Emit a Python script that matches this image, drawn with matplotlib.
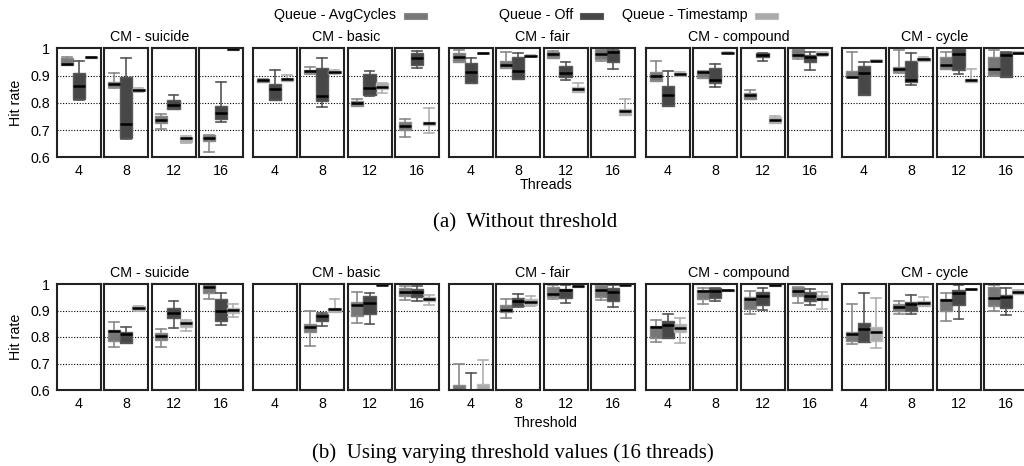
"""
Hit-rate box plots per contention manager, with and without threshold.
Two rows of 5 groups x 4 small panels, three queue variants per panel.
"""

import matplotlib
matplotlib.use('Agg')
import matplotlib.pyplot as plt
from matplotlib.patches import Rectangle

plt.rcParams['font.family'] = ['Liberation Sans', 'DejaVu Sans']

# ============================================================================
# Data
# ============================================================================

GROUPS = ['CM - suicide', 'CM - basic', 'CM - fair', 'CM - compound', 'CM - cycle']
SETTINGS = ['4', '8', '12', '16']
SERIES = ['Queue - AvgCycles', 'Queue - Off', 'Queue - Timestamp']

Y_TICKS = [0.6, 0.7, 0.8, 0.9, 1.0]
Y_TICK_LABELS = ['0.6', '0.7', '0.8', '0.9', '1']
GRID_LINES = [0.7, 0.8, 0.9]

# Each entry: (whislo, q1, median, q3, whishi); 4 settings per group, groups in order.
# None = no data for that setting.

# (a) Without threshold -- x = threads
TOP_AVGCYCLES = [
    (0.938, 0.940, 0.942, 0.965, 0.968), (0.853, 0.857, 0.870, 0.878, 0.911),
    (0.704, 0.727, 0.737, 0.752, 0.758), (0.621, 0.659, 0.671, 0.681, 0.683),
    (0.875, 0.876, 0.883, 0.887, 0.889), (0.906, 0.908, 0.917, 0.920, 0.930),
    (0.788, 0.788, 0.798, 0.808, 0.815), (0.673, 0.700, 0.715, 0.728, 0.742),
    (0.949, 0.949, 0.967, 0.982, 0.994), (0.927, 0.927, 0.939, 0.955, 0.988),
    (0.963, 0.966, 0.978, 0.985, 0.990), (0.955, 0.961, 0.979, 0.996, 0.996),
    (0.880, 0.880, 0.900, 0.914, 0.955), (0.891, 0.891, 0.912, 0.918, 0.918),
    (0.815, 0.815, 0.829, 0.837, 0.846), (0.961, 0.967, 0.976, 0.996, 0.996),
    (0.894, 0.894, 0.896, 0.918, 0.988), (0.908, 0.913, 0.925, 0.933, 0.994),
    (0.924, 0.924, 0.939, 0.968, 0.985), (0.898, 0.902, 0.924, 0.969, 0.994),
]
TOP_OFF = [
    (0.812, 0.813, 0.861, 0.911, 0.952), (0.668, 0.672, 0.722, 0.896, 0.965),
    (0.776, 0.776, 0.792, 0.810, 0.828), (0.728, 0.742, 0.761, 0.788, 0.876),
    (0.810, 0.810, 0.851, 0.869, 0.922), (0.785, 0.806, 0.826, 0.928, 0.965),
    (0.825, 0.830, 0.856, 0.907, 0.916), (0.927, 0.939, 0.966, 0.982, 0.989),
    (0.874, 0.874, 0.914, 0.947, 0.963), (0.889, 0.889, 0.918, 0.969, 0.982),
    (0.884, 0.894, 0.911, 0.935, 0.951), (0.924, 0.950, 0.988, 0.994, 0.998),
    (0.790, 0.790, 0.829, 0.862, 0.916), (0.859, 0.872, 0.884, 0.929, 0.941),
    (0.955, 0.969, 0.976, 0.982, 0.984), (0.920, 0.951, 0.967, 0.977, 0.985),
    (0.829, 0.829, 0.908, 0.935, 0.950), (0.864, 0.878, 0.885, 0.954, 0.982),
    (0.906, 0.920, 0.978, 0.996, 0.996), (0.894, 0.894, 0.977, 0.985, 0.988),
]
TOP_TIMESTAMP = [
    (0.965, 0.966, 0.967, 0.968, 0.969), (0.840, 0.842, 0.846, 0.852, 0.854),
    (0.654, 0.656, 0.671, 0.676, 0.678), (0.994, 0.995, 0.996, 0.997, 0.998),
    (0.880, 0.880, 0.886, 0.892, 0.901), (0.906, 0.908, 0.913, 0.917, 0.919),
    (0.835, 0.850, 0.858, 0.872, 0.874), (0.688, 0.719, 0.725, 0.728, 0.780),
    (0.980, 0.981, 0.982, 0.983, 0.984), (0.969, 0.970, 0.973, 0.975, 0.976),
    (0.839, 0.839, 0.851, 0.859, 0.872), (0.755, 0.755, 0.769, 0.776, 0.813),
    (0.900, 0.902, 0.906, 0.911, 0.913), (0.982, 0.983, 0.984, 0.985, 0.986),
    (0.725, 0.727, 0.737, 0.747, 0.750), (0.971, 0.974, 0.979, 0.985, 0.987),
    (0.953, 0.954, 0.955, 0.956, 0.957), (0.955, 0.955, 0.960, 0.965, 0.969),
    (0.878, 0.878, 0.884, 0.887, 0.924), (0.980, 0.982, 0.984, 0.987, 0.988),
]

# (b) Using varying threshold values (16 threads) -- x = threshold
BOTTOM_AVGCYCLES = [
    None, (0.763, 0.786, 0.822, 0.826, 0.855),
    (0.763, 0.788, 0.804, 0.816, 0.831), (0.944, 0.967, 0.989, 1.000, 1.000),
    None, (0.767, 0.819, 0.838, 0.848, 0.897),
    (0.853, 0.880, 0.920, 0.932, 0.970), (0.939, 0.955, 0.971, 0.986, 0.991),
    (0.550, 0.570, 0.590, 0.619, 0.699), (0.872, 0.895, 0.903, 0.920, 0.942),
    (0.945, 0.951, 0.964, 0.989, 0.997), (0.939, 0.951, 0.979, 0.997, 0.997),
    (0.781, 0.798, 0.838, 0.841, 0.866), (0.926, 0.945, 0.975, 0.979, 0.986),
    (0.888, 0.907, 0.944, 0.951, 0.974), (0.929, 0.955, 0.974, 0.989, 0.989),
    (0.772, 0.786, 0.811, 0.819, 0.925), (0.886, 0.897, 0.913, 0.926, 0.935),
    (0.861, 0.897, 0.941, 0.945, 0.966), (0.898, 0.916, 0.947, 0.989, 0.997),
]
BOTTOM_OFF = [
    None, (0.778, 0.778, 0.811, 0.819, 0.836),
    (0.834, 0.872, 0.891, 0.908, 0.936), (0.845, 0.860, 0.898, 0.945, 0.966),
    None, (0.842, 0.861, 0.878, 0.888, 0.892),
    (0.848, 0.888, 0.929, 0.954, 0.966), (0.935, 0.952, 0.970, 0.981, 0.994),
    (0.550, 0.570, 0.580, 0.595, 0.665), (0.913, 0.918, 0.935, 0.947, 0.962),
    (0.929, 0.949, 0.976, 0.982, 0.995), (0.913, 0.936, 0.970, 0.985, 0.995),
    (0.798, 0.798, 0.847, 0.861, 0.886), (0.935, 0.947, 0.975, 0.985, 0.985),
    (0.901, 0.920, 0.954, 0.970, 0.985), (0.920, 0.935, 0.955, 0.970, 0.980),
    (0.782, 0.782, 0.829, 0.851, 0.966), (0.885, 0.897, 0.925, 0.932, 0.960),
    (0.867, 0.920, 0.967, 0.979, 0.995), (0.882, 0.911, 0.951, 0.960, 0.985),
]
BOTTOM_TIMESTAMP = [
    None, (0.900, 0.901, 0.910, 0.916, 0.917),
    (0.822, 0.838, 0.853, 0.861, 0.865), (0.877, 0.891, 0.901, 0.911, 0.925),
    None, (0.896, 0.896, 0.905, 0.908, 0.945),
    (0.995, 0.996, 0.997, 0.998, 0.999), (0.920, 0.935, 0.942, 0.951, 0.960),
    (0.550, 0.570, 0.590, 0.621, 0.715), (0.916, 0.920, 0.932, 0.945, 0.954),
    (0.989, 0.990, 0.991, 0.993, 0.994), (0.995, 0.996, 0.997, 0.998, 0.999),
    (0.776, 0.819, 0.834, 0.848, 0.870), (0.974, 0.975, 0.976, 0.977, 0.978),
    (0.993, 0.994, 0.995, 0.996, 0.997), (0.907, 0.939, 0.945, 0.957, 0.970),
    (0.757, 0.786, 0.817, 0.836, 0.949), (0.916, 0.916, 0.929, 0.936, 0.950),
    (0.979, 0.980, 0.981, 0.982, 0.983), (0.962, 0.964, 0.969, 0.974, 0.976),
]

# ============================================================================
# Style / layout (pixel units on a 1024 x 466 canvas)
# ============================================================================

W, H = 1024, 466
FILL = ['#777777', '#474747', '#aaaaaa']
EDGE = ['#8a8a8a', '#5a5a5a', '#bbbbbb']
WHISK = ['#8a8a8a', '#555555', '#b0b0b0']

GROUP_X0 = [57, 253, 449, 646, 842]
SUB_STEP = 47.3
PANEL_W = 44
ROWS = [
    dict(top=48.3, bottom=157.3, title_y=37, label_y=103, xlabel='Threads',
         xlabel_y=185, caption='(a)  Without threshold', caption_x=525, caption_y=223,
         data=[TOP_AVGCYCLES, TOP_OFF, TOP_TIMESTAMP]),
    dict(top=284, bottom=390, title_y=273, label_y=337, xlabel='Threshold',
         xlabel_y=423, caption='(b)  Using varying threshold values (16 threads)',
         caption_x=513, caption_y=453,
         data=[BOTTOM_AVGCYCLES, BOTTOM_OFF, BOTTOM_TIMESTAMP]),
]
FS = 10.3


def fx(px):
    return px / W


def fy(py):
    return 1 - py / H


def make_stats(t):
    lo, q1, med, q3, hi = t
    return dict(whislo=lo, q1=q1, med=med, q3=q3, whishi=hi, fliers=[])


fig = plt.figure(figsize=(W / 100, H / 100), dpi=100, facecolor='white')

for row in ROWS:
    for g, group in enumerate(GROUPS):
        for s, setting in enumerate(SETTINGS):
            x0 = GROUP_X0[g] + s * SUB_STEP
            ax = fig.add_axes([fx(x0), fy(row['bottom']), fx(PANEL_W),
                               (row['bottom'] - row['top']) / H])
            for y in GRID_LINES:
                ax.axhline(y, color='black', lw=0.8, ls=(0, (1, 1.5)), zorder=0)
            for k in range(3):
                entry = row['data'][k][g * 4 + s]
                if entry is None:
                    continue
                ax.bxp([make_stats(entry)], positions=[k + 1], widths=1.0,
                       capwidths=0.8, showfliers=False, patch_artist=True,
                       boxprops=dict(facecolor=FILL[k], edgecolor=EDGE[k], lw=1.0),
                       whiskerprops=dict(color=WHISK[k], lw=1.2),
                       capprops=dict(color=WHISK[k], lw=1.2),
                       medianprops=dict(color='black', lw=1.8))
            ax.set_xlim(0.2, 3.8)
            ax.set_ylim(0.6, 1.0)
            ax.set_xticks([2])
            ax.set_xticklabels([setting], fontsize=FS)
            ax.tick_params(axis='x', length=0, pad=5)
            if g == 0 and s == 0:
                ax.set_yticks(Y_TICKS)
                ax.set_yticklabels(Y_TICK_LABELS, fontsize=FS)
                ax.tick_params(axis='y', length=0, pad=5)
            else:
                ax.set_yticks([])
            for sp in ax.spines.values():
                sp.set_linewidth(1.5)
                sp.set_color('#222222')

        # group title
        gc = GROUP_X0[g] + (3 * SUB_STEP + PANEL_W) / 2
        fig.text(fx(gc), fy(row['title_y']), group, ha='center', va='center', fontsize=FS)

    fig.text(fx(16), fy(row['label_y']), 'Hit rate', rotation=90,
             ha='center', va='center', fontsize=FS)
    fig.text(fx(546), fy(row['xlabel_y']), row['xlabel'], ha='center', va='center', fontsize=FS)
    fig.text(fx(row['caption_x']), fy(row['caption_y']), row['caption'],
             ha='center', va='center', fontsize=15,
             family=['Liberation Serif', 'DejaVu Serif'])

# Legend: text then swatch
LEGEND_TEXT_RIGHT = [396, 573, 748]
LEGEND_SWATCH_X = [404, 580, 755]
for k, name in enumerate(SERIES):
    fig.text(fx(LEGEND_TEXT_RIGHT[k]), fy(15.5), name, ha='right', va='center', fontsize=FS)
    fig.patches.append(Rectangle((fx(LEGEND_SWATCH_X[k]), fy(19)), fx(23), 6.3 / H,
                                 transform=fig.transFigure, facecolor=FILL[k],
                                 edgecolor=EDGE[k], lw=0.8))

fig.savefig('out.png', dpi=100, facecolor='white')
